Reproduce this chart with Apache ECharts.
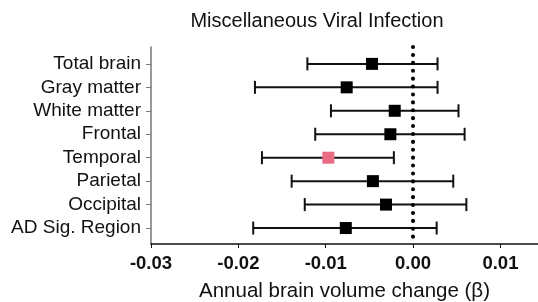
<!DOCTYPE html>
<html>
<head>
<meta charset="utf-8">
<script src="https://cdn.jsdelivr.net/npm/echarts@6/dist/echarts.min.js"></script>
<style>
  html, body { margin: 0; padding: 0; background: #fff; }
  #chart { width: 538px; height: 302px; }
</style>
</head>
<body>
<div id="chart"></div>
<script>
// regions, top to bottom
var regions = ['Total brain', 'Gray matter', 'White matter', 'Frontal',
  'Temporal', 'Parietal', 'Occipital', 'AD Sig. Region'];
// beta estimates and 95% CI
var beta  = [-0.0047, -0.0076, -0.0021, -0.0026, -0.0097, -0.0046, -0.0031, -0.0077];
var lower = [-0.0121, -0.0181, -0.0094, -0.0112, -0.0173, -0.0139, -0.0124, -0.0183];
var upper = [ 0.0028,  0.0028,  0.0052,  0.0059, -0.0022,  0.0046,  0.0061,  0.0027];
// significant ones get the pink marker
var significant = [false, false, false, false, true, false, false, false];
var xTicks = [-0.03, -0.02, -0.01, 0.00, 0.01];

var FONT = '"Liberation Sans", Arial, Helvetica, sans-serif';

var chart = echarts.init(document.getElementById('chart'), null, { renderer: 'canvas' });

var ciData = regions.map(function (r, i) { return [lower[i], upper[i], i]; });
var pointData = regions.map(function (r, i) {
  return {
    value: [beta[i], i],
    itemStyle: { color: significant[i] ? '#E96A83' : '#000', opacity: 1 }
  };
});

var option = {
  animation: false,
  title: {
    text: 'Miscellaneous Viral Infection',
    left: 312,
    top: 6,
    textAlign: 'center',
    textStyle: { fontFamily: FONT, fontSize: 20, fontWeight: 'normal', color: '#111' }
  },
  grid: { left: 151, right: 0, top: 47, bottom: 58, outerBoundsMode: 'none', containLabel: false },
  xAxis: {
    type: 'value',
    min: -0.03,
    max: 0.0143,
    interval: 0.01,
    name: 'Annual brain volume change (\u03B2)',
    nameLocation: 'middle',
    nameGap: 37,
    nameTextStyle: { fontFamily: FONT, fontSize: 20.5, color: '#111' },
    splitLine: { show: false },
    axisLine: { onZero: false, lineStyle: { color: '#111', width: 1.5 } },
    axisTick: { length: 4, customValues: xTicks, lineStyle: { color: '#111', width: 1 } },
    axisLabel: {
      customValues: xTicks,
      margin: 10,
      fontFamily: FONT, fontSize: 18.5, fontWeight: 'bold', color: '#111',
      formatter: function (v) { return v.toFixed(2); }
    }
  },
  yAxis: {
    type: 'value',
    inverse: true,
    min: -0.72,
    max: 7.68,
    splitLine: { show: false },
    axisLine: { show: true, onZero: false, lineStyle: { color: '#777', width: 1.5 } },
    axisTick: {
      show: true, length: 5,
      customValues: [0, 1, 2, 3, 4, 5, 6, 7],
      lineStyle: { color: '#777', width: 1 }
    },
    axisLabel: {
      customValues: [0, 1, 2, 3, 4, 5, 6, 7],
      margin: 10,
      fontFamily: FONT, fontSize: 19, color: '#111',
      formatter: function (v) { return regions[Math.round(v)]; }
    }
  },
  series: [
    {
      type: 'custom',
      data: ciData,
      encode: { x: [0, 1], y: 2 },
      renderItem: function (params, api) {
        var a = api.coord([api.value(0), api.value(2)]);
        var b = api.coord([api.value(1), api.value(2)]);
        var h = 6.5;
        var style = { stroke: '#111', lineWidth: 2 };
        return {
          type: 'group',
          children: [
            { type: 'line', shape: { x1: a[0], y1: a[1], x2: b[0], y2: b[1] }, style: style },
            { type: 'line', shape: { x1: a[0], y1: a[1] - h, x2: a[0], y2: a[1] + h }, style: style },
            { type: 'line', shape: { x1: b[0], y1: b[1] - h, x2: b[0], y2: b[1] + h }, style: style }
          ]
        };
      },
      z: 2
    },
    {
      type: 'scatter',
      data: pointData,
      symbol: 'rect',
      symbolSize: 12,
      z: 4,
      markLine: {
        silent: true,
        symbol: 'none',
        label: { show: false },
        lineStyle: { color: '#000', width: 4, type: [0.1, 7.8], cap: 'round', opacity: 1 },
        data: [{ xAxis: 0 }]
      }
    }
  ]
};

chart.setOption(option);
</script>
</body>
</html>
